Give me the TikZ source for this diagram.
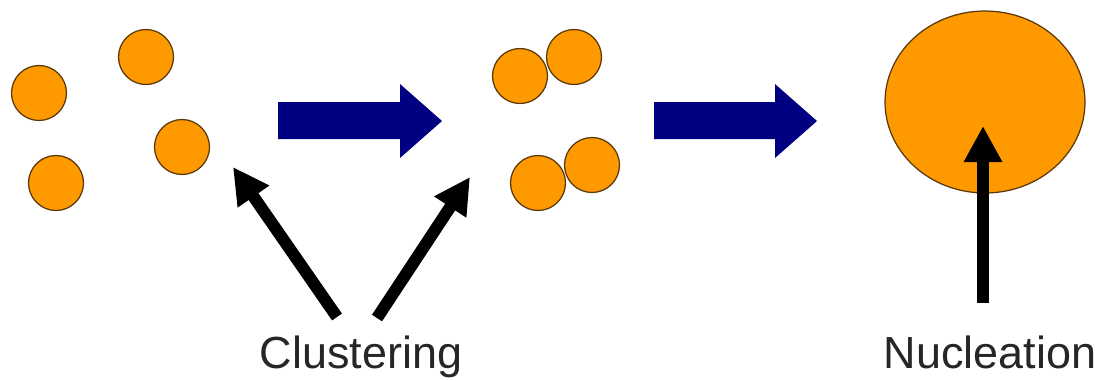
\documentclass[tikz,border=0pt]{standalone}
\usepackage{fontspec}
\setmainfont{Liberation Sans}
\usetikzlibrary{shapes.geometric,arrows.meta}
\definecolor{dropfill}{RGB}{255,153,0}
\definecolor{dropline}{RGB}{90,55,10}
\definecolor{stepblue}{RGB}{0,0,128}
\tikzset{
  drop/.style={circle,draw=dropline,fill=dropfill,line width=0.7pt,
    inner sep=0pt,minimum size=1.1cm},
  pointer/.style={line width=0.24cm,
    -{Triangle[length=0.72cm,width=0.72cm]}},
  label/.style={font=\fontsize{25.6}{30}\selectfont,text=black!85,
    anchor=base,inner sep=0pt}
}

\begin{document}
\begin{tikzpicture}[x=0.02cm,y=-0.02cm]
  \useasboundingbox (0,0) rectangle (1101,380);
  % loose particles, then pairs
  \foreach \n/\x/\y in {p1/39/93,p2/146/57,p3/182/147,p4/56/183,
    q1/520/76,q2/574/57,q3/538/183,q4/592/165}
  \node[drop] (\n) at (\x,\y) {};
  \node[drop,ellipse,minimum width=4cm,minimum height=3.64cm] (nucleus)
  at (985,102) {};
  % process steps
  \fill[stepblue] (278,102) -- (400,102) -- (400,84) -- (442,121)
  -- (400,158) -- (400,139) -- (278,139) -- cycle;
  \fill[stepblue] (654,102) -- (775,102) -- (775,84) -- (817,121)
  -- (775,158) -- (775,139) -- (654,139) -- cycle;
  % labels
  \node[label] (clust) at (361,368) {Clustering};
  \node[label] (nucl) at (990,368) {Nucleation};
  \coordinate (c1) at (337,317); \coordinate (c1tip) at (233,167);
  \coordinate (c2) at (377,318); \coordinate (c2tip) at (470,177);
  \coordinate (n1) at (983,303); \coordinate (n1tip) at (983,126);
  \draw[pointer] (c1) -- (c1tip);
  \draw[pointer] (c2) -- (c2tip);
  \draw[pointer] (n1) -- (n1tip);
\end{tikzpicture}
\end{document}
